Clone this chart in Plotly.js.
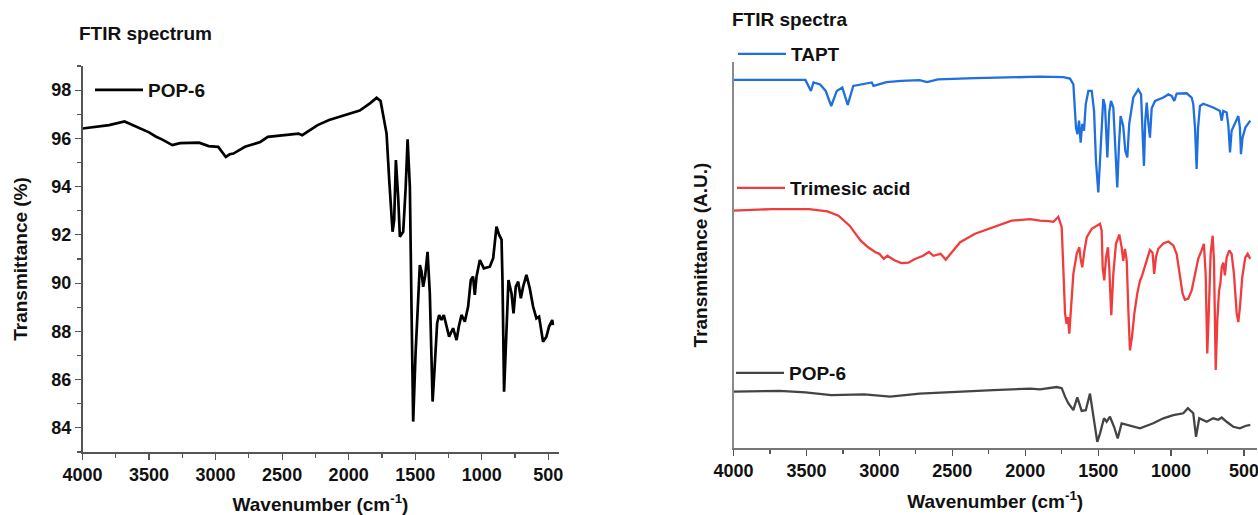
<!DOCTYPE html>
<html>
<head>
<meta charset="utf-8">
<script src="https://cdn.plot.ly/plotly-3.0.1.min.js"></script>
<style>html,body{margin:0;padding:0;background:#fff;}#chart{width:1258px;height:515px;}</style>
</head>
<body>
<div id="chart"></div>
<script>
// ---- Left panel: POP-6 FTIR spectrum (wavenumber cm-1, transmittance %) ----
const leftWavenumber = [4000,3900,3800,3684,3600,3500,3450,3400,3325,3267,3124,3052,2980,2923,2894,2866,2779,2664,2607,2492,2377,2349,2300,2233,2147,2032,1917,1840,1790,1760,1740,1715,1695,1670,1658,1645,1628,1615,1590,1572,1557,1540,1527,1515,1497,1482,1465,1452,1440,1425,1407,1390,1369,1352,1335,1320,1302,1285,1264,1245,1215,1189,1172,1152,1127,1102,1082,1065,1052,1039,1014,984,939,914,889,869,851,844,832,814,799,776,761,744,726,706,689,664,639,614,589,569,551,539,514,494,470,465];
const leftTransmittance = [96.41,96.48,96.55,96.70,96.48,96.25,96.08,95.95,95.72,95.80,95.82,95.68,95.65,95.23,95.34,95.37,95.65,95.85,96.06,96.13,96.20,96.13,96.30,96.55,96.76,96.97,97.15,97.45,97.68,97.55,96.9,96.2,94.27,92.13,92.6,95.1,93.58,91.92,92.13,93.9,95.96,94.0,88.75,84.26,87.1,88.9,90.75,90.47,89.85,90.3,91.3,89.58,85.09,86.68,88.34,88.68,88.47,88.68,88.13,87.78,88.13,87.64,88.2,88.68,88.4,89.03,90.13,90.27,89.51,90.27,90.96,90.61,90.68,91.03,92.34,92.0,91.8,90.13,85.5,87.85,90.13,89.57,88.75,89.85,90.06,89.37,89.85,90.34,89.79,89.03,88.54,88.61,88.06,87.57,87.78,88.2,88.47,88.26];

// ---- Right panel: stacked spectra (arbitrary units) ----
const taptWavenumber = [4000,3700,3507,3469,3452,3406,3368,3330,3292,3254,3217,3179,3128,3052,3040,3002,2951,2850,2724,2673,2598,2345,2093,1899,1739,1693,1670,1652,1642,1631,1620,1609,1597,1585,1567,1544,1528,1515,1499,1483,1465,1453,1437,1424,1412,1396,1378,1369,1357,1346,1328,1314,1300,1287,1259,1225,1206,1195,1186,1177,1167,1156,1145,1133,1110,1053,1019,996,978,962,893,859,848,836,825,815,802,779,711,665,653,642,619,608,596,585,562,539,528,521,510,491,457];
const taptSignal = [95.35,95.4,95.35,92.5,94.7,94.2,92.5,88.6,92.5,93.4,88.9,93.8,94.2,94.7,93.8,94.2,94.8,95.1,95.3,94.8,95.5,95.8,96.0,96.2,96.1,95.7,94.2,83.0,81.3,84.8,79.1,84.0,82.2,89.1,92.5,92.5,87.3,74.4,66.2,78.7,90.4,88.7,75.3,87.0,89.9,88.2,76.1,67.5,78.7,86.0,83.4,77.0,75.3,84.0,90.8,92.9,91.6,83.0,73.1,84.8,89.5,84.3,80.4,88.0,89.9,90.8,91.6,91.2,89.9,91.8,91.9,90.8,89.1,83.0,72.3,83.0,88.6,89.2,88.2,87.3,84.8,87.3,86.9,83.8,76.6,82.2,84.3,86.0,83.0,76.1,80.4,83.0,84.8];

const trimesicWavenumber = [4000,3735,3482,3356,3280,3204,3128,3077,3027,3000,2970,2945,2900,2850,2800,2760,2700,2660,2630,2580,2545,2510,2446,2344,2219,2093,1966,1899,1840,1807,1773,1750,1739,1727,1716,1707,1698,1686,1670,1647,1629,1620,1609,1595,1578,1544,1510,1487,1476,1469,1458,1446,1433,1424,1410,1396,1378,1355,1339,1328,1316,1304,1293,1282,1268,1252,1232,1213,1202,1190,1167,1145,1127,1116,1104,1088,1053,1019,985,962,939,921,905,882,859,836,814,791,775,763,752,741,729,715,706,694,683,671,662,653,642,631,619,601,585,569,550,539,528,512,491,475,457];
const trimesicSignal = [61.5,61.9,61.9,61.3,60.2,57.6,53.7,52.0,50.7,50.3,49.0,49.8,48.7,47.9,48.0,48.9,49.8,50.8,49.8,50.3,48.8,50.3,53.3,55.5,57.2,58.9,59.3,58.9,58.8,58.6,59.9,57.2,46.8,34.8,32.2,33.9,29.6,36.4,45.1,50.3,52.0,49.0,46.8,50.9,54.6,56.8,57.6,58.1,56.3,46.8,43.4,49.4,52.0,46.8,34.4,45.1,52.9,55.3,52.0,48.5,51.6,48.5,35.7,25.3,28.8,34.8,40.0,43.4,44.3,46.0,48.6,51.3,50.6,45.1,49.4,51.6,53.0,53.5,52.5,50.3,45.1,40.0,38.4,38.7,40.8,45.1,49.0,51.2,52.9,45.0,24.5,35.7,50.3,55.0,48.6,20.2,33.2,40.8,42.6,46.8,48.0,44.7,49.4,51.2,50.3,45.1,34.8,32.6,36.5,44.3,49.4,50.3,49.0];

const popWavenumber = [4000,3684,3507,3330,3103,2926,2724,2472,2219,1966,1899,1784,1750,1727,1705,1670,1643,1613,1585,1556,1533,1506,1487,1460,1442,1419,1391,1366,1339,1304,1259,1213,1122,1053,985,916,885,848,829,807,756,711,676,653,619,574,528,491,457];
const popSignal = [14.6,14.8,14.4,13.7,13.9,13.3,14.1,14.6,15.0,15.4,15.2,15.8,15.5,13.3,11.6,9.8,13.1,9.6,9.8,14.1,8.9,1.6,3.8,7.7,6.8,8.1,5.5,2.5,6.4,6.0,5.5,5.1,6.4,7.7,8.5,9.0,10.3,9.0,2.9,7.7,6.8,7.7,7.3,7.9,6.8,5.5,5.1,5.7,6.0];

const xTickVals = [4000,3500,3000,2500,2000,1500,1000,500];
const leftYTicks = [84,86,88,90,92,94,96,98];

const FONT = 'Liberation Sans, Arial, Helvetica, sans-serif';
const W = 1258, H = 515;
const px = v => v / W;
const py = v => (H - v) / H;

const tickFont = {family: FONT, size: 18, color: '#111', weight: 700};
const titleFont = {family: FONT, size: 19, color: '#111', weight: 700};

const traces = [
  {x: leftWavenumber, y: leftTransmittance, type: 'scatter', mode: 'lines', name: 'POP-6',
   line: {color: '#000000', width: 2.7}, xaxis: 'x', yaxis: 'y', legend: 'legend'},
  {x: taptWavenumber, y: taptSignal, type: 'scatter', mode: 'lines', name: 'TAPT',
   line: {color: '#1f6fde', width: 2.3}, xaxis: 'x2', yaxis: 'y2', legend: 'legend2'},
  {x: trimesicWavenumber, y: trimesicSignal, type: 'scatter', mode: 'lines', name: 'Trimesic acid',
   line: {color: '#f03c3c', width: 2.3}, xaxis: 'x2', yaxis: 'y2', legend: 'legend3'},
  {x: popWavenumber, y: popSignal, type: 'scatter', mode: 'lines', name: 'POP-6',
   line: {color: '#444444', width: 2.3}, xaxis: 'x2', yaxis: 'y2', legend: 'legend4'}
];

const xAxisCommon = {
  tickvals: xTickVals, ticktext: xTickVals.map(String), ticks: 'outside', ticklen: 6, tickwidth: 1.2,
  showgrid: false, zeroline: false, showline: true, linewidth: 1.5,
  tickfont: tickFont, ticklabeloverflow: 'allow',
  minor: {dtick: 250, tick0: 0, ticks: 'outside', ticklen: 4, tickwidth: 1.2, showgrid: false},
  title: {text: 'Wavenumber (cm<sup>-1</sup>)', font: titleFont, standoff: 14}
};

const legendCommon = {xref: 'paper', yref: 'paper', xanchor: 'left', yanchor: 'middle',
  bgcolor: 'rgba(0,0,0,0)', borderwidth: 0, font: titleFont, itemwidth: 48};

const layout = {
  width: W, height: H,
  margin: {l: 0, r: 0, t: 0, b: 0},
  paper_bgcolor: '#ffffff', plot_bgcolor: '#ffffff',
  title: {text: 'FTIR spectrum', font: titleFont, x: px(79), xanchor: 'left', xref: 'container',
          y: py(33), yanchor: 'middle', yref: 'container'},
  xaxis: Object.assign({}, xAxisCommon, {
    domain: [px(82.5), px(558.5)], range: [4000, 423], anchor: 'y',
    linecolor: '#555', tickcolor: '#555', minor: Object.assign({}, xAxisCommon.minor, {tickcolor: '#555'})
  }),
  yaxis: {
    domain: [py(452), py(66)], range: [83, 99], anchor: 'x',
    tickvals: leftYTicks, ticktext: leftYTicks.map(String), ticks: 'outside', ticklen: 6, tickwidth: 1.2,
    minor: {dtick: 1, tick0: 0, ticks: 'outside', ticklen: 4, tickwidth: 1.2, tickcolor: '#555', showgrid: false},
    showgrid: false, zeroline: false, showline: true, linewidth: 1.5, linecolor: '#555', tickcolor: '#555',
    tickfont: tickFont,
    title: {text: 'Transmittance (%)', font: titleFont, standoff: 18}
  },
  xaxis2: Object.assign({}, xAxisCommon, {
    domain: [px(733.5), px(1257)], range: [4000, 411], anchor: 'y2',
    linecolor: '#777', tickcolor: '#555', minor: Object.assign({}, xAxisCommon.minor, {tickcolor: '#555'})
  }),
  yaxis2: {
    domain: [py(448), py(62)], range: [0, 100], anchor: 'x2',
    showticklabels: false, ticks: '', showgrid: false, zeroline: false,
    showline: true, linewidth: 1.5, linecolor: '#8a8a8a',
    title: {text: 'Transmittance (A.U.)', font: titleFont, standoff: 19}
  },
  showlegend: true,
  legend: Object.assign({}, legendCommon, {x: px(90), y: py(90)}),
  legend2: Object.assign({}, legendCommon, {x: px(733), y: py(54)}),
  legend3: Object.assign({}, legendCommon, {x: px(732), y: py(188)}),
  legend4: Object.assign({}, legendCommon, {x: px(731), y: py(373)}),
  annotations: [
    {text: 'FTIR spectra', xref: 'paper', yref: 'paper', x: px(730), y: py(20), xanchor: 'left', yanchor: 'middle',
     showarrow: false, font: titleFont}
  ]
};

Plotly.newPlot('chart', traces, layout, {displayModeBar: false, staticPlot: true});
</script>
</body>
</html>
